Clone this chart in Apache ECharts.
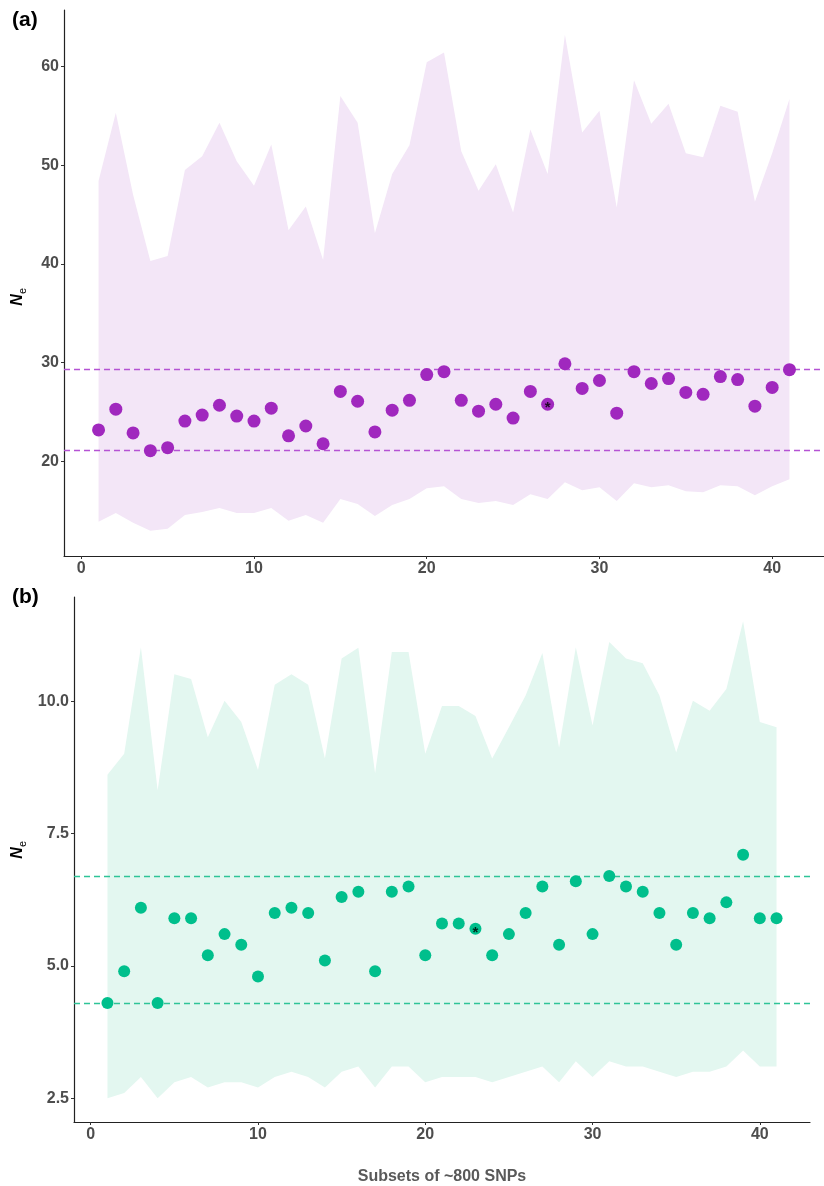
<!DOCTYPE html>
<html>
<head>
<meta charset="utf-8">
<script src="https://cdn.jsdelivr.net/npm/echarts@6/dist/echarts.min.js"></script>
<style>
html,body{margin:0;padding:0;background:#fff;}
#chart{width:824px;height:1186px;}
</style>
</head>
<body>
<div id="chart"></div>
<script>
// ---- data ----
const subsets = [1,2,3,4,5,6,7,8,9,10,11,12,13,14,15,16,17,18,19,20,21,22,23,24,25,26,27,28,29,30,31,32,33,34,35,36,37,38,39,40,41];
const xTicks = [0,10,20,30,40];

// Panel (a)
const neA    = [23.2,25.3,22.9,21.1,21.4,24.1,24.7,25.7,24.6,24.1, 25.4,22.6,23.6,21.8,27.1,26.1,23.0,25.2,26.2,28.8, 29.1,26.2,25.1,25.8,24.4,27.1,25.8,29.9,27.4,28.2, 24.9,29.1,27.9,28.4,27.0,26.8,28.6,28.3,25.6,27.5,29.3];
const upperA = [48.4,55.3,47.0,40.3,40.8,49.5,50.9,54.3,50.4,47.9, 52.1,43.4,45.8,40.4,57.0,54.3,43.1,49.1,52.0,60.4, 61.4,51.4,47.4,50.1,45.2,53.6,49.1,63.2,53.3,55.5, 45.7,58.6,54.2,56.2,51.2,50.8,56.0,55.4,46.3,51.2,56.7];
const lowerA = [13.9,14.8,13.8,13.0,13.2,14.6,14.9,15.3,14.8,14.8, 15.3,14.0,14.6,13.8,16.2,15.7,14.5,15.6,16.2,17.3, 17.5,16.2,15.8,16.0,15.6,16.7,16.2,17.9,17.1,17.4, 16.0,17.8,17.4,17.6,17.0,16.9,17.6,17.5,16.6,17.5,18.2];
const refLinesA = [21.1, 29.3];
const yTicksA = [20,30,40,50,60];
const starSubsetA = 27;

// Panel (b)
const neB    = [4.3,4.9,6.1,4.3,5.9,5.9,5.2,5.6,5.4,4.8, 6.0,6.1,6.0,5.1,6.3,6.4,4.9,6.4,6.5,5.2, 5.8,5.8,5.7,5.2,5.6,6.0,6.5,5.4,6.6,5.6, 6.7,6.5,6.4,6.0,5.4,6.0,5.9,6.2,7.1,5.9,5.9];
const upperB = [8.61,9.01,11.02,8.32,10.51,10.42,9.32,10.01,9.61,8.70, 10.31,10.51,10.31,8.92,10.81,11.01,8.64,10.93,10.93,9.01, 9.91,9.91,9.72,8.92,9.51,10.11,10.91,9.12,11.02,9.54, 11.12,10.81,10.72,10.11,9.03,10.01,9.82,10.23,11.51,9.61,9.51];
const lowerB = [2.5,2.6,2.9,2.5,2.8,2.9,2.7,2.8,2.8,2.7, 2.9,3.0,2.9,2.7,3.0,3.1,2.7,3.1,3.1,2.8, 2.9,2.9,2.9,2.8,2.9,3.0,3.1,2.8,3.2,2.9, 3.2,3.1,3.1,3.0,2.9,3.0,3.0,3.1,3.4,3.1,3.1];
const refLinesB = [4.3, 6.7];
const yTicksB = [2.5,5.0,7.5,10.0];
const starSubsetB = 23;

const xTitle = 'Subsets of ~800 SNPs';

// ---- styles ----
const FONT = '"Liberation Sans", Arial, sans-serif';
const colA = {pt:'#A028BE', band:'#F3E6F7', ref:'#B553D4'};
const colB = {pt:'#00BF8C', band:'#E3F7F0', ref:'#2EC497'};

function xAxisCfg(grid, extra){
  return Object.assign({
    gridIndex:grid, type:'value', min:-1, max:43,
    splitLine:{show:false},
    axisLine:{show:true, onZero:false, lineStyle:{color:'#222', width:1.2}},
    axisTick:{show:true, length:3, customValues:xTicks, lineStyle:{color:'#333'}},
    axisLabel:{customValues:xTicks, color:'#4D4D4D', fontWeight:'bold', fontSize:16, fontFamily:FONT, margin:5}
  }, extra||{});
}
function yAxisCfg(grid, min, max, ticks, fmt){
  return {
    gridIndex:grid, type:'value', min:min, max:max,
    splitLine:{show:false},
    axisLine:{show:true, onZero:false, lineStyle:{color:'#222', width:1.2}},
    axisTick:{show:true, length:3, customValues:ticks, lineStyle:{color:'#333'}},
    axisLabel:{customValues:ticks, color:'#4D4D4D', fontWeight:'bold', fontSize:16, fontFamily:FONT, margin:5, formatter:fmt}
  };
}
function panelSeries(grid, ne, upper, lower, refs, star, col, size){
  return [
    {type:'custom', xAxisIndex:grid, yAxisIndex:grid, silent:true, z:1,
     encode:{x:0, y:[1,2]},
     data: subsets.map((x,i)=>[x, lower[i], upper[i]]),
     renderItem:function(params, api){
       if (params.dataIndex !== 0) return null;
       const pts = [];
       for (let i=0;i<subsets.length;i++) pts.push(api.coord([subsets[i], upper[i]]));
       for (let i=subsets.length-1;i>=0;i--) pts.push(api.coord([subsets[i], lower[i]]));
       return {type:'polygon', shape:{points:pts}, style:{fill:col.band}};
     },
     markLine:{silent:true, symbol:'none', label:{show:false}, animation:false,
       lineStyle:{color:col.ref, type:[6,4], width:1.3},
       data: refs.map(v=>({yAxis:v}))}},
    {type:'scatter', xAxisIndex:grid, yAxisIndex:grid, symbolSize:size, z:5,
     itemStyle:{color:col.pt, opacity:1},
     data: subsets.map((x,i)=>[x, ne[i]])},
    {type:'scatter', xAxisIndex:grid, yAxisIndex:grid, symbolSize:1, z:10, silent:true,
     itemStyle:{color:'rgba(0,0,0,0)'},
     label:{show:true, position:'inside', formatter:'*', color:'#000', fontSize:15, fontWeight:'bold', fontFamily:FONT, offset:[0,4]},
     data: [[star, ne[star-1]]]}
  ];
}

const chart = echarts.init(document.getElementById('chart'), null, {renderer:'canvas'});
chart.setOption({
  animation:false,
  backgroundColor:'#fff',
  grid:[
    {left:64, top:10, right:-7, height:546},
    {left:74, top:597, right:14, height:532}
  ],
  xAxis:[
    xAxisCfg(0),
    xAxisCfg(1, {name:xTitle, nameLocation:'middle', nameGap:47,
      nameTextStyle:{fontWeight:'bold', fontSize:16, color:'#595959', fontFamily:FONT}})
  ],
  yAxis:[
    yAxisCfg(0, 10.44, 65.7, yTicksA, v=>String(v)),
    yAxisCfg(1, 2.05, 11.97, yTicksB, v=>v.toFixed(1))
  ],
  graphic:[
    {type:'text', left:12, top:10, style:{text:'(a)', font:'bold 21px '+FONT, fill:'#000'}},
    {type:'text', left:12, top:587, style:{text:'(b)', font:'bold 21px '+FONT, fill:'#000'}},
    {type:'text', x:17.5, y:300, rotation:Math.PI/2, style:{text:'N', font:'italic bold 16px '+FONT, fill:'#000', align:'center', verticalAlign:'middle'}},
    {type:'text', x:22.5, y:291, rotation:Math.PI/2, style:{text:'e', font:'11px '+FONT, fill:'#000', align:'center', verticalAlign:'middle'}},
    {type:'text', x:17.5, y:853, rotation:Math.PI/2, style:{text:'N', font:'italic bold 16px '+FONT, fill:'#000', align:'center', verticalAlign:'middle'}},
    {type:'text', x:22.5, y:844, rotation:Math.PI/2, style:{text:'e', font:'11px '+FONT, fill:'#000', align:'center', verticalAlign:'middle'}}
  ],
  series:[].concat(
    panelSeries(0, neA, upperA, lowerA, refLinesA, starSubsetA, colA, 13),
    panelSeries(1, neB, upperB, lowerB, refLinesB, starSubsetB, colB, 12)
  )
});
</script>
</body>
</html>
